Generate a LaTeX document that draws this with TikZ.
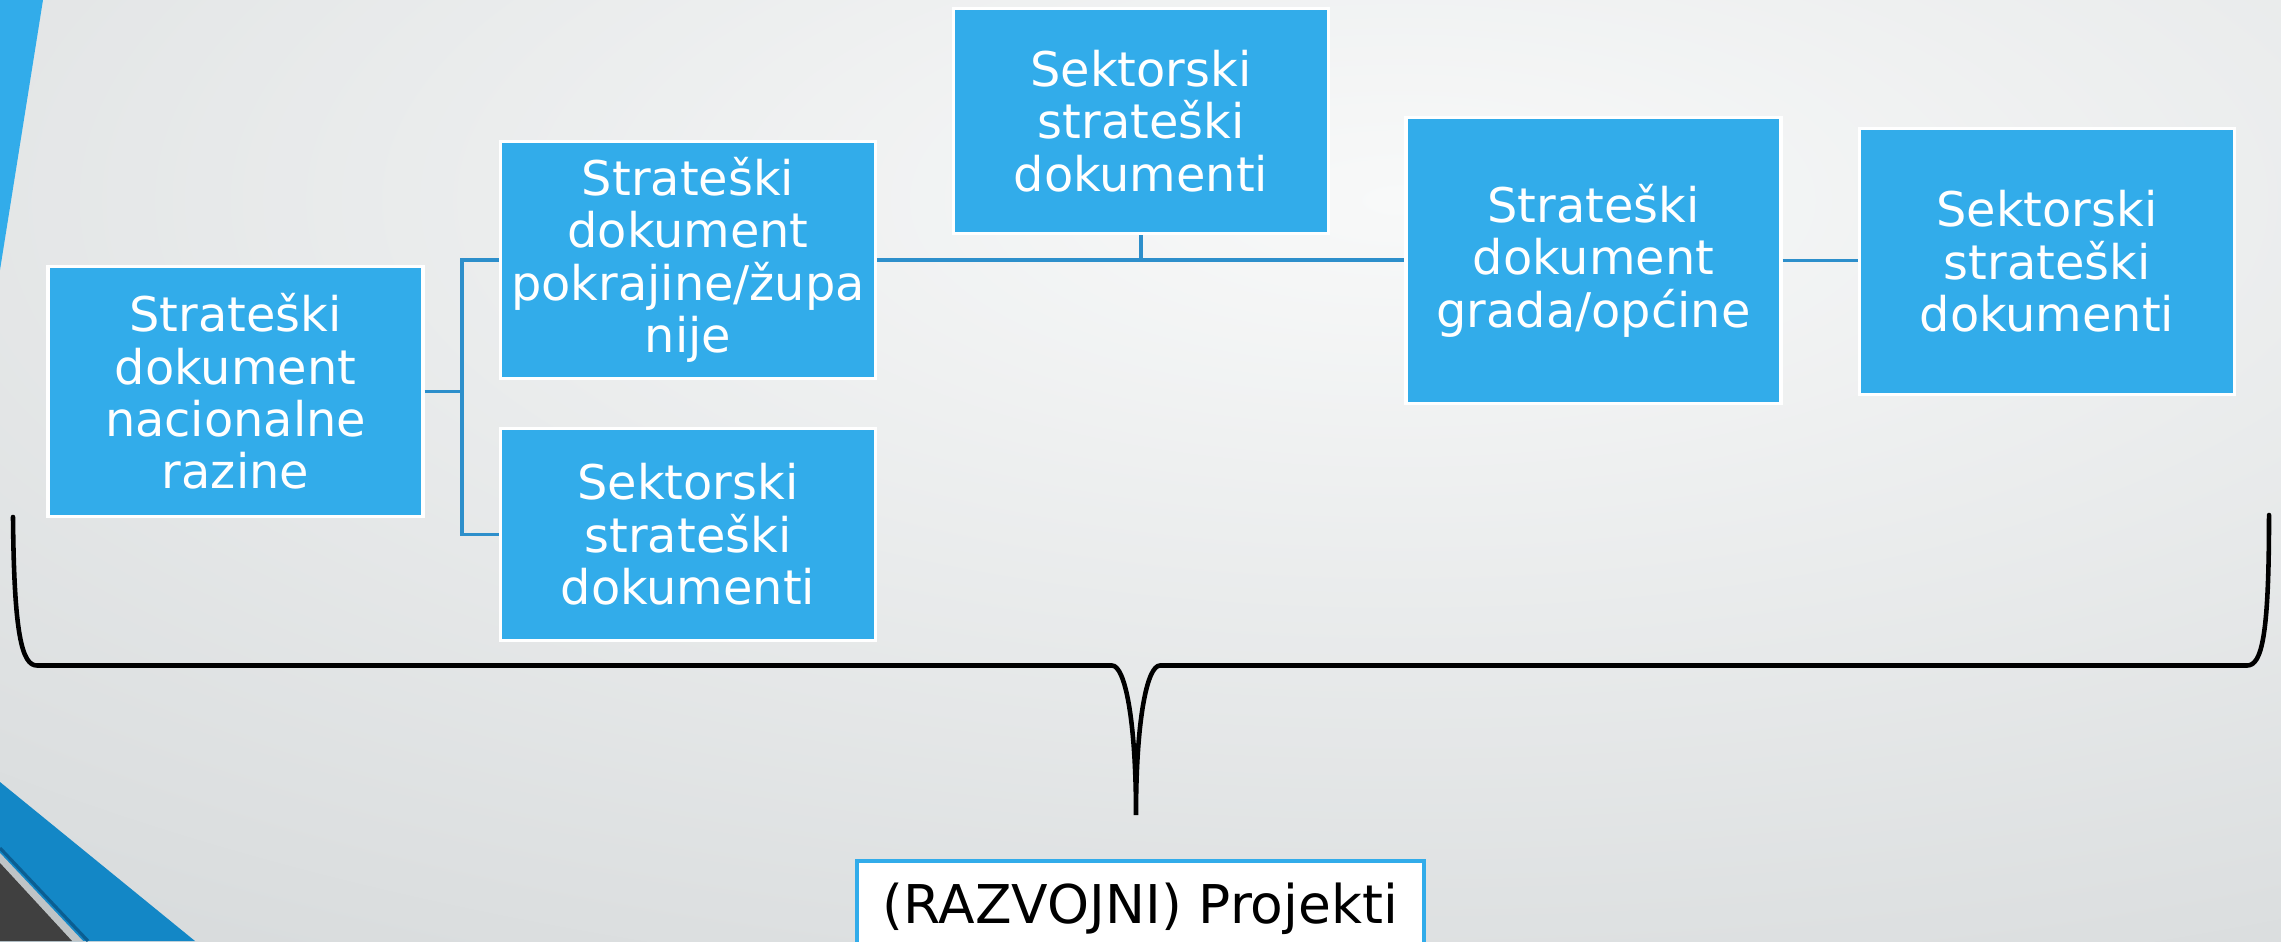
\documentclass[tikz,border=0pt]{standalone}
\usepackage{fontspec}
\setmainfont{DejaVu Sans}
\definecolor{boxblue}{HTML}{32ACEA}
\definecolor{linkblue}{HTML}{2D8FCB}
\definecolor{bandblue}{HTML}{1387C6}
\definecolor{deepblue}{HTML}{0B5E92}
\definecolor{bglight}{HTML}{F8F9F9}
\definecolor{bgdark}{HTML}{BFC4C6}
\definecolor{cornergray}{HTML}{404040}
\tikzset{
  docbox/.style={draw=white, line width=0.9pt, fill=boxblue, text=white, align=center,
    inner sep=0pt, minimum width=3.75cm, font=\fontsize{13.6}{14.9}\selectfont},
  link/.style={draw=linkblue, line width=1.1pt},
  brace/.style={line width=1.3pt, line cap=round}
}
\begin{document}
\begin{tikzpicture}
\useasboundingbox (0,0) rectangle (22.81,-9.41);
\begin{scope}
\clip (0,0) rectangle (22.81,-9.41);
\shade[inner color=bglight, outer color=bgdark] (-26,-18) rectangle (54,14);
\fill[boxblue] (0,0) -- (0.43,0) -- (0,-2.70) -- cycle;
\fill[bandblue] (0,-7.82) -- (1.95,-9.41) -- (0,-9.41) -- cycle;
\draw[deepblue, line width=0.9pt] (0,-8.48) -- (0.88,-9.41);
\fill[bgdark] (0,-8.53) -- (0.83,-9.41) -- (0,-9.41) -- cycle;
\fill[cornergray] (0,-8.63) -- (0.72,-9.41) -- (0,-9.41) -- cycle;
\end{scope}

\node[docbox, minimum height=2.50cm] (nac) at (2.355,-3.915) {Strateški\\dokument\\nacionalne\\razine};
\node[docbox, minimum height=2.37cm] (zup) at (6.88,-2.60) {Strateški\\dokument\\pokrajine/župa\\nije};
\node[docbox, minimum height=2.12cm] (sekzup) at (6.88,-5.345) {Sektorski\\strateški\\dokumenti};
\node[docbox, minimum height=2.25cm] (sekmid) at (11.41,-1.21) {Sektorski\\strateški\\dokumenti};
\node[docbox, minimum height=2.86cm] (grad) at (15.935,-2.605) {Strateški\\dokument\\grada/općine};
\node[docbox, minimum height=2.66cm] (sekgrad) at (20.47,-2.615) {Sektorski\\strateški\\dokumenti};

\draw[link] (nac.east) -- ++(0.37,0) coordinate (split) |- (zup.west);
\draw[link] (split) |- (sekzup.west);
\draw[link] (zup.east) -- (zup.east -| grad.west);
\draw[link] (sekmid.south) -- (sekmid.south |- zup.east);
\draw[link] (grad.east) -- (grad.east -| sekgrad.west);

\draw[brace] (0.13,-5.17) .. controls (0.14,-6.35) and (0.22,-6.655) .. (0.37,-6.655)
  -- (11.12,-6.655) .. controls (11.25,-6.655) and (11.36,-7.2) .. (11.36,-8.15)
  .. controls (11.36,-7.2) and (11.47,-6.655) .. (11.60,-6.655)
  -- (22.47,-6.655) .. controls (22.62,-6.655) and (22.69,-6.35) .. (22.69,-5.15);

\node[draw=boxblue, line width=0.9pt, fill=white, inner sep=0pt, minimum width=5.67cm,
  minimum height=0.96cm, font=\fontsize{15.2}{18}\selectfont] (proj) at (11.405,-9.09) {(RAZVOJNI) Projekti};
\end{tikzpicture}
\end{document}
